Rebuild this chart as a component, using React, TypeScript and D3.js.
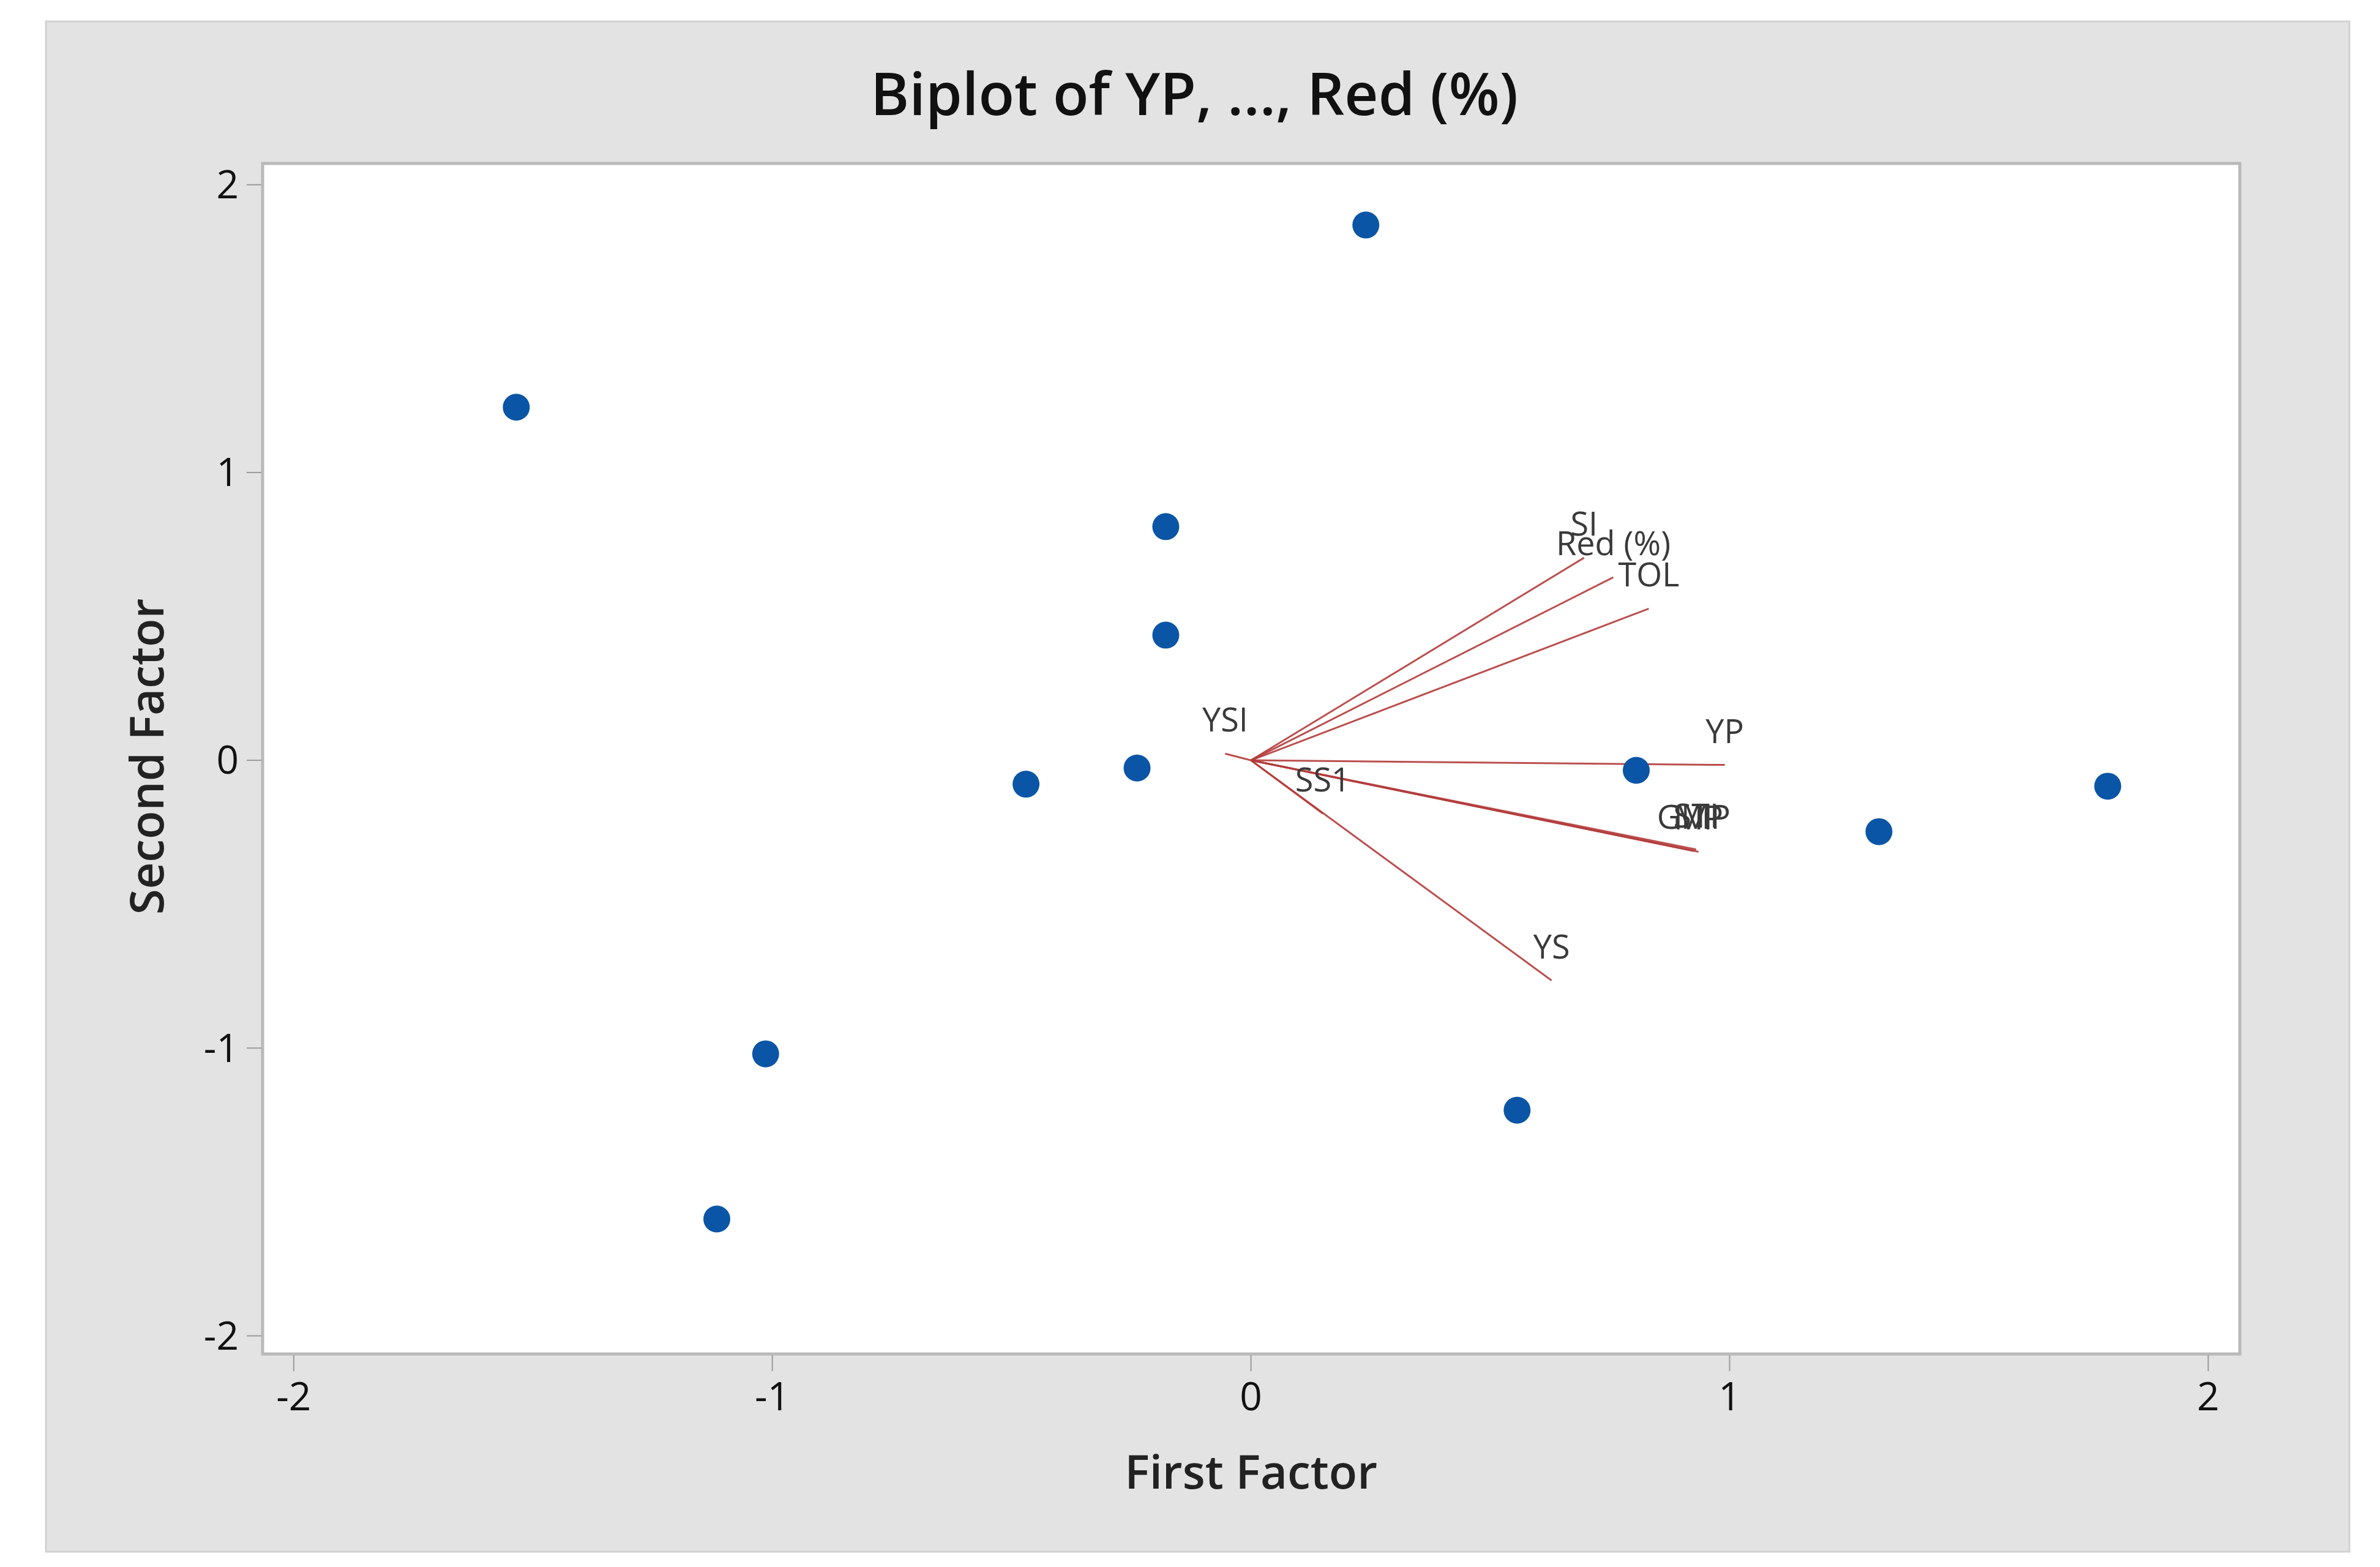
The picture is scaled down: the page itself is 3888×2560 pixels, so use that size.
import React from "react";
import * as d3 from "d3";

// ---- data ----
const pointX = [0.24, -1.535, -0.178, -0.178, -0.238, -0.47, 0.805, 1.79, 1.312, -1.014, -1.116, 0.556];
const pointY = [1.86, 1.227, 0.812, 0.435, -0.027, -0.083, -0.035, -0.09, -0.248, -1.02, -1.594, -1.216];

const vectorNames = ["YP", "YS", "SI", "Red (%)", "TOL", "YSI", "SS1", "STI", "MP", "GMP"];
const vectorX = [0.99, 0.628, 0.696, 0.757, 0.831, -0.054, 0.15, 0.93, 0.935, 0.925];
const vectorY = [-0.016, -0.765, 0.704, 0.636, 0.527, 0.023, -0.185, -0.31, -0.318, -0.315];

const xTicks = [-2, -1, 0, 1, 2];
const yTicks = [-2, -1, 0, 1, 2];

const titleText = "Biplot of YP, ..., Red (%)";
const xTitle = "First Factor";
const yTitle = "Second Factor";

// ---- layout ----
const W = 3888;
const H = 2560;
const plot = { left: 429, top: 267, right: 3659, bottom: 2212 };
const FONT = "'Open Sans', 'Noto Sans', sans-serif";

export default function App() {
  const x = d3.scaleLinear().domain([-2.065, 2.066]).range([plot.left, plot.right]);
  const y = d3.scaleLinear().domain([-2.063, 2.074]).range([plot.bottom, plot.top]);

  const vectors = vectorNames.map((name, i) => ({ name, vx: vectorX[i], vy: vectorY[i] }));
  const points = pointX.map((px, i) => ({ px, py: pointY[i] }));
  const line = d3.line<[number, number]>().x((d) => x(d[0])).y((d) => y(d[1]));

  return (
    <svg
      width={W}
      height={H}
      viewBox={`0 0 ${W} ${H}`}
      style={{ position: "absolute", left: 0, top: 0, display: "block", background: "#ffffff" }}
    >
      {/* outer panel */}
      <rect x={75} y={35} width={3763} height={2500} fill="#e3e3e3" stroke="#d2d2d2" strokeWidth={3} />

      {/* title */}
      <text
        x={1951}
        y={188}
        textAnchor="middle"
        fontFamily={FONT}
        fontWeight={600}
        fontSize={96}
        fill="#111"
      >
        {titleText}
      </text>

      {/* plot area */}
      <rect
        x={plot.left}
        y={plot.top}
        width={plot.right - plot.left}
        height={plot.bottom - plot.top}
        fill="#ffffff"
        stroke="#b9b9b9"
        strokeWidth={5}
      />

      {/* x ticks */}
      {xTicks.map((t) => (
        <g key={"xt" + t}>
          <line x1={x(t)} x2={x(t)} y1={plot.bottom + 2} y2={plot.bottom + 28} stroke="#9a9a9a" strokeWidth={2} />
          <text
            x={x(t)}
            y={2304}
            textAnchor="middle"
            fontFamily={FONT}
            fontSize={64}
            fill="#111"
          >
            {t}
          </text>
        </g>
      ))}

      {/* y ticks */}
      {yTicks.map((t) => (
        <g key={"yt" + t}>
          <line x1={plot.left - 26} x2={plot.left - 2} y1={y(t)} y2={y(t)} stroke="#9a9a9a" strokeWidth={2} />
          <text
            x={390}
            y={y(t)}
            dy="0.35em"
            textAnchor="end"
            fontFamily={FONT}
            fontSize={64}
            fill="#111"
          >
            {t}
          </text>
        </g>
      ))}

      {/* axis titles */}
      <text
        x={x(0)}
        y={2432}
        textAnchor="middle"
        fontFamily={FONT}
        fontWeight={600}
        fontSize={76}
        fill="#222"
      >
        {xTitle}
      </text>
      <text
        transform={`translate(240, ${1236}) rotate(-90)`}
        dy="0.35em"
        textAnchor="middle"
        fontFamily={FONT}
        fontWeight={600}
        fontSize={76}
        fill="#222"
      >
        {yTitle}
      </text>

      {/* vectors */}
      {vectors.map((v) => (
        <path
          key={"v" + v.name}
          d={line([
            [0, 0],
            [v.vx, v.vy],
          ]) as string}
          stroke="#b43c3c"
          strokeWidth={3}
          fill="none"
          strokeOpacity={0.9}
        />
      ))}

      {/* points */}
      {points.map((p, i) => (
        <circle key={"p" + i} cx={x(p.px)} cy={y(p.py)} r={22} fill="#0a55a6" />
      ))}

      {/* vector labels */}
      {vectors.map((v) => (
        <text
          key={"l" + v.name}
          x={x(v.vx)}
          y={y(v.vy) - 55}
          dy="0.35em"
          textAnchor="middle"
          fontFamily={FONT}
          fontSize={54}
          fill="#3a3a3a"
        >
          {v.name}
        </text>
      ))}
    </svg>
  );
}
